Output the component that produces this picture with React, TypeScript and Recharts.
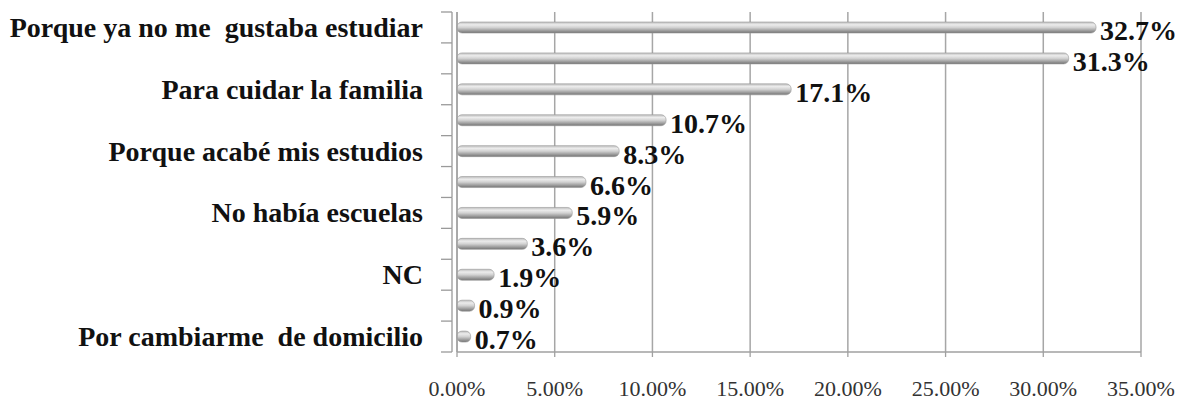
import React from "react";
import { BarChart, Bar, XAxis, YAxis, CartesianGrid, LabelList } from "recharts";

// Category labels (only every other one is printed in the original chart)
const categories = [
  "Porque ya no me  gustaba estudiar",
  "",
  "Para cuidar la familia",
  "",
  "Porque acabé mis estudios",
  "",
  "No había escuelas",
  "",
  "NC",
  "",
  "Por cambiarme  de domicilio",
];

// Percentages per category
const values = [32.7, 31.3, 17.1, 10.7, 8.3, 6.6, 5.9, 3.6, 1.9, 0.9, 0.7];

// X axis ticks
const xTicks = [0, 5, 10, 15, 20, 25, 30, 35];

const data = categories.map((name, idx) => ({ idx, name, value: values[idx] }));

const W = 1181;
const H = 400;
const PLOT_TOP = 12;
const X_AXIS_H = 48;
const Y_AXIS_W = 457;
const RIGHT = 40;
const BAND = (H - X_AXIS_H - PLOT_TOP) / categories.length;

const SERIF = "'Liberation Serif', 'Times New Roman', serif";

const CatTick = (props: any) => {
  const { x, y, payload } = props;
  const i = payload.index ?? props.index ?? 0;
  const half = payload.offset ? payload.offset : BAND / 2;
  const label = categories[payload.value] ?? "";
  const lineColor = "#9a9a9a";
  return (
    <g>
      <line x1={x - 16} x2={x - 5} y1={y - half} y2={y - half} stroke={lineColor} strokeWidth={1.3} />
      {i === categories.length - 1 && (
        <line x1={x - 16} x2={x - 5} y1={y + half} y2={y + half} stroke={lineColor} strokeWidth={1.3} />
      )}
      <line x1={x - 5} x2={x - 5} y1={y - half} y2={y + half} stroke={lineColor} strokeWidth={1.3} />
      {i % 2 === 0 && label && (
        <text
          x={x - 34}
          y={y}
          textAnchor="end"
          dominantBaseline="central"
          fontFamily={SERIF}
          fontWeight="bold"
          fontSize={28}
          fill="#111"
          style={{ whiteSpace: "pre" }}
        >
          {label}
        </text>
      )}
    </g>
  );
};

const ValueLabel = (props: any) => {
  const { x, y, width, height, value } = props;
  return (
    <text
      x={x + width + 4}
      y={y + height / 2 + 3}
      dominantBaseline="central"
      fontFamily={SERIF}
      fontWeight="bold"
      fontSize={28}
      fill="#111"
    >
      {Number(value).toFixed(1) + "%"}
    </text>
  );
};

export default function App() {
  return (
    <div style={{ position: "absolute", left: 0, top: 0, width: W, height: H, background: "#fff" }}>
      <BarChart
        width={W}
        height={H}
        data={data}
        layout="vertical"
        margin={{ top: PLOT_TOP, right: RIGHT, bottom: 0, left: 0 }}
        barCategoryGap={0}
      >
        <defs>
          <linearGradient id="cyl" x1="0" y1="0" x2="0" y2="1">
            <stop offset="0%" stopColor="#bdbdbd" />
            <stop offset="25%" stopColor="#ececec" />
            <stop offset="50%" stopColor="#d2d2d2" />
            <stop offset="80%" stopColor="#9a9a9a" />
            <stop offset="100%" stopColor="#747474" />
          </linearGradient>
        </defs>
        <CartesianGrid horizontal={false} vertical={true} stroke="#a6a6a6" strokeWidth={1.5} />
        <XAxis
          type="number"
          domain={[0, 35]}
          ticks={xTicks}
          interval={0}
          height={X_AXIS_H}
          tickFormatter={(v: number) => v.toFixed(2) + "%"}
          tick={{ fontFamily: SERIF, fontSize: 22, fill: "#333" }}
          axisLine={{ stroke: "#a0a0a0", strokeWidth: 1.5 }}
          tickLine={{ stroke: "#a0a0a0", strokeWidth: 1.3 }}
          tickSize={5}
          tickMargin={23}
        />
        <YAxis
          type="category"
          dataKey="idx"
          width={Y_AXIS_W}
          interval={0}
          tick={<CatTick />}
          tickLine={false}
          tickSize={0}
          tickMargin={0}
          axisLine={{ stroke: "#a0a0a0", strokeWidth: 1.3 }}
        />
        <Bar
          dataKey="value"
          fill="url(#cyl)"
          stroke="#999"
          strokeWidth={0.6}
          barSize={11}
          radius={5}
          isAnimationActive={false}
        >
          <LabelList dataKey="value" content={<ValueLabel />} />
        </Bar>
      </BarChart>
    </div>
  );
}
